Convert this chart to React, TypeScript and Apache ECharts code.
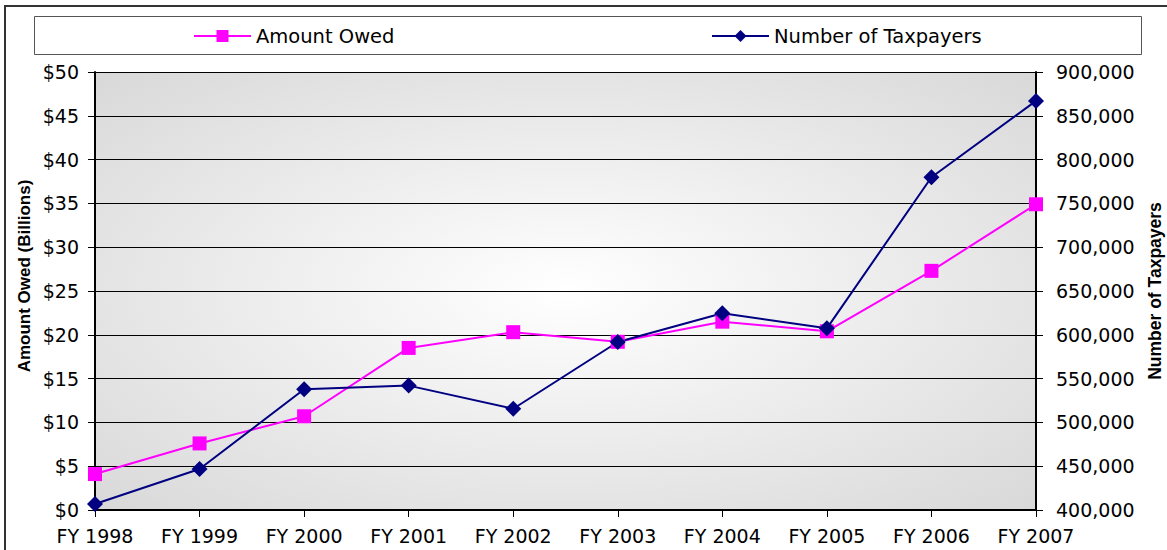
import React, { useEffect, useRef } from "react";
import * as echarts from "echarts";

const categories = ["FY 1998", "FY 1999", "FY 2000", "FY 2001", "FY 2002", "FY 2003", "FY 2004", "FY 2005", "FY 2006", "FY 2007"];
const amountOwed = [4.1, 7.6, 10.7, 18.5, 20.3, 19.2, 21.5, 20.4, 27.3, 34.9];
const taxpayers = [406800, 446800, 537800, 542000, 515600, 591800, 624500, 607400, 779800, 867000];
const leftTicks = { min: 0, max: 50, interval: 5 };
const rightTicks = { min: 400000, max: 900000, interval: 50000 };
const leftName = "Amount Owed (Billions)";
const rightName = "Number of Taxpayers";

const FONT = "DejaVu Sans, Verdana, sans-serif";
const BOLD = "Liberation Sans, Arial, sans-serif";
const FS = 19;

export default function App() {
  const ref = useRef<HTMLDivElement>(null);
  useEffect(() => {
    if (!ref.current) return;
    const chart = echarts.init(ref.current, null, { renderer: "svg" });
    chart.setOption({
      animation: false,
      textStyle: { fontFamily: FONT },
      graphic: [
        { type: "rect", shape: { x: 5, y: 6, width: 1175, height: 570 }, style: { fill: "none", stroke: "#333", lineWidth: 2 }, z: -10 },
        { type: "rect", shape: { x: 34.5, y: 16.5, width: 1107, height: 38 }, style: { fill: "#fff", stroke: "#555", lineWidth: 1 }, z: -5 },
        {
          type: "text", x: 24, y: 276, rotation: Math.PI / 2,
          style: { text: leftName, fontSize: 17, fontWeight: "bold", fontFamily: BOLD, fill: "#000", align: "center", verticalAlign: "middle" },
        },
        {
          type: "text", x: 1155, y: 291, rotation: Math.PI / 2,
          style: { text: rightName, fontSize: 17.5, fontWeight: "bold", fontFamily: BOLD, fill: "#000", align: "center", verticalAlign: "middle" },
        },
      ],
      legend: [
        { data: ["Amount Owed"], left: 193, top: 26, padding: 0, itemWidth: 57, itemHeight: 15, itemGap: 5, textStyle: { fontSize: 19.5, color: "#000", fontFamily: FONT } },
        { data: ["Number of Taxpayers"], left: 711, top: 26, padding: 0, itemWidth: 57, itemHeight: 15, itemGap: 5, textStyle: { fontSize: 19.5, color: "#000", fontFamily: FONT } },
      ],
      grid: {
        left: 95, right: 131, top: 72, bottom: 40, show: true, borderWidth: 0,
        backgroundColor: new echarts.graphic.RadialGradient(0.5, 0.5, 0.75, [
          { offset: 0, color: "#ffffff" },
          { offset: 1, color: "#d6d6d6" },
        ]),
      },
      xAxis: {
        type: "category", data: categories, boundaryGap: false,
        axisLine: { lineStyle: { color: "#000", width: 2 } },
        axisTick: { show: true, length: 7, lineStyle: { color: "#000" } },
        axisLabel: { fontSize: FS, color: "#000", margin: 16, fontFamily: FONT },
      },
      yAxis: [
        {
          type: "value", ...leftTicks, position: "left",
          axisLine: { show: true, lineStyle: { color: "#000", width: 2 } },
          axisTick: { show: true, length: 7, lineStyle: { color: "#000" } },
          axisLabel: { fontSize: FS, color: "#000", margin: 16, formatter: (v: number) => "$" + v, fontFamily: FONT },
          splitLine: { show: true, lineStyle: { color: "#000", width: 1 } },
        },
        {
          type: "value", ...rightTicks, position: "right",
          axisLine: { show: true, lineStyle: { color: "#000", width: 2 } },
          axisTick: { show: true, length: 7, lineStyle: { color: "#000" } },
          axisLabel: { fontSize: FS, color: "#000", margin: 20, formatter: (v: number) => v.toLocaleString("en-US"), fontFamily: FONT },
          splitLine: { show: false },
        },
      ],
      series: [
        {
          name: "Amount Owed", type: "line", data: amountOwed, yAxisIndex: 0,
          symbol: "rect", symbolSize: 14, showAllSymbol: true, clip: false,
          itemStyle: { color: "#ff00ff" }, lineStyle: { color: "#ff00ff", width: 2 },
        },
        {
          name: "Number of Taxpayers", type: "line", data: taxpayers, yAxisIndex: 1,
          symbol: "diamond", symbolSize: 16, showAllSymbol: true, clip: false,
          itemStyle: { color: "#000080" }, lineStyle: { color: "#000080", width: 2 },
        },
      ],
    });
    return () => chart.dispose();
  }, []);
  return <div ref={ref} style={{ position: "fixed", left: 0, top: 0, width: 1167, height: 550, background: "#fff" }} />;
}
